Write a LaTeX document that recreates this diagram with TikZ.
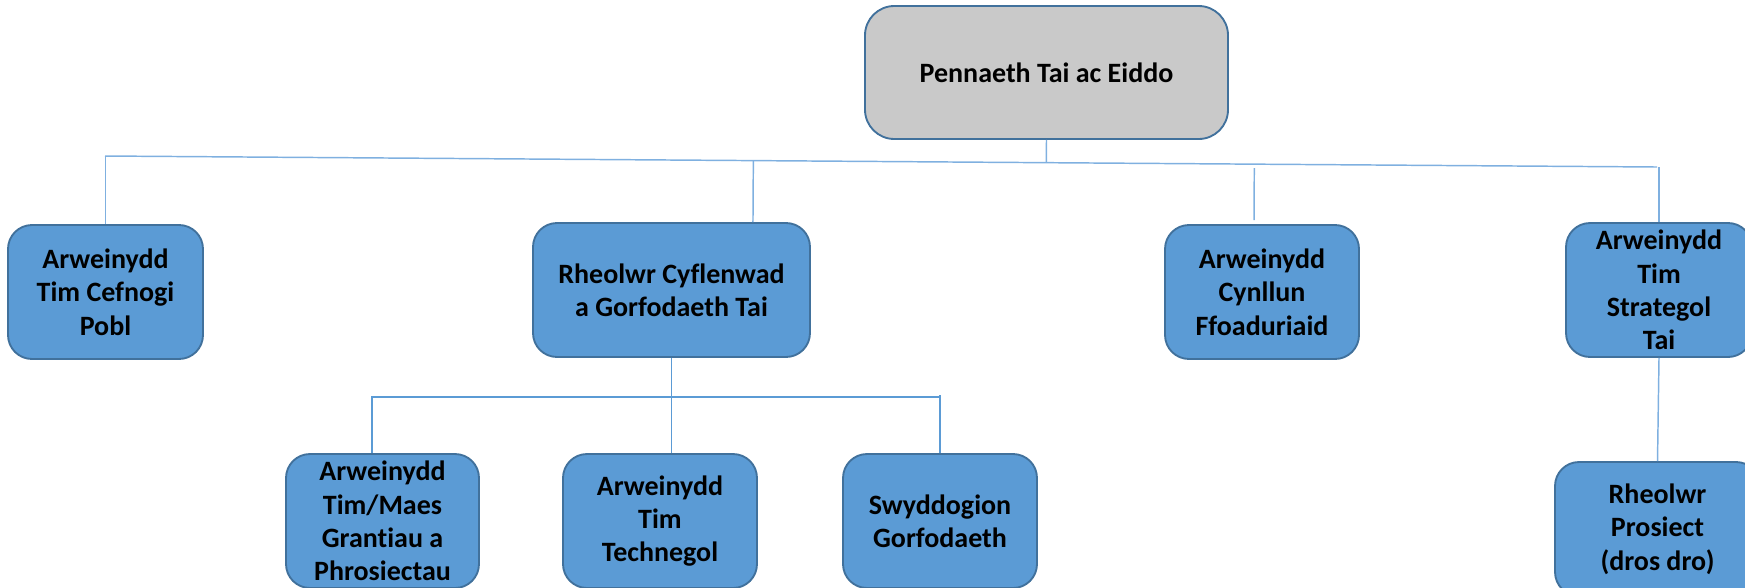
\documentclass[tikz,border=0pt]{standalone}
\usepackage{fontspec}
\setmainfont[Ligatures=NoCommon]{Carlito}
\usetikzlibrary{calc}
\definecolor{boxblue}{HTML}{5B9BD5}
\definecolor{boxedge}{HTML}{41719C}
\definecolor{boxgray}{HTML}{C9C9C9}
\definecolor{linemain}{HTML}{7FB0E0}
\definecolor{linesub}{HTML}{5B9BD5}
\tikzset{
  orgbox/.style={draw=boxedge, line width=1.4pt, fill=boxblue, rounded corners=18pt,
    align=center, inner sep=2pt, minimum height=100.5pt,
    font=\fontsize{21}{25}\selectfont\bfseries, text=black},
  headbox/.style={orgbox, fill=boxgray, rounded corners=22pt, minimum height=99.75pt},
  mainline/.style={draw=linemain, line width=1.1pt},
  subline/.style={draw=linesub, line width=1.4pt},
}
\begin{document}
\begin{tikzpicture}[x=0.75pt, y=-0.75pt]
\useasboundingbox (0,0) rectangle (1745,587);
% nodes
\node[headbox, minimum width=272.25pt] (top) at (1046.5,72.5) {Pennaeth Tai ac Eiddo};
\node[orgbox, minimum width=146.25pt] (b1) at (105.5,292) {Arweinydd\\Tim Cefnogi\\Pobl};
\node[orgbox, minimum width=207.75pt] (b2) at (671.5,290) {Rheolwr Cyflenwad\\a Gorfodaeth Tai};
\node[orgbox, minimum width=145.5pt] (b3) at (1262,292) {Arweinydd\\Cynllun\\Ffoaduriaid};
\node[orgbox, minimum width=139.5pt] (b4) at (1659,290) {Arweinydd\\Tim\\Strategol\\Tai};
\node[orgbox, minimum width=153.75pt] (b5) at (1657.5,529) {Rheolwr\\Prosiect\\(dros dro)};
\node[orgbox, minimum width=144.75pt] (sA) at (382.5,521) {Arweinydd\\Tim/Maes\\Grantiau a\\Phrosiectau};
\node[orgbox, minimum width=145.5pt] (sB) at (660,521) {Arweinydd\\Tim\\Technegol};
\node[orgbox, minimum width=145.5pt] (sC) at (940,521) {Swyddogion\\Gorfodaeth};
% main horizontal connector
\coordinate (hl) at (105,156);
\coordinate (hr) at (1657,167);
\draw[mainline] (hl) -- (hr);
\draw[mainline] (top.south) -- ($(hl)!(top.south)!(hr)$);
\draw[mainline] (b1.north) -- (b1.north |- hl);
\coordinate (b2t) at ([xshift=61.1pt]b2.north);
\draw[mainline] (b2t) -- ($(hl)!(b2t)!(hr)$);
\coordinate (b3t) at ([xshift=-6pt]b3.north);
\draw[mainline, shorten <=3pt, shorten >=3pt] (b3t) -- ($(hl)!(b3t)!(hr)$);
\draw[mainline] (b4.north) -- (b4.north |- hr);
\draw[mainline] (b4.south) -- (b5.north);
% sub connectors
\draw[subline] (b2.south) -- (b2.south |- sB.north);
\draw[subline] ([xshift=-7.9pt]sA.north) -- ++(0,-56) coordinate (sl) -- (sl -| sC.north);
\draw[subline] (sC.north) -- ++(0,-58);
\end{tikzpicture}
\end{document}
